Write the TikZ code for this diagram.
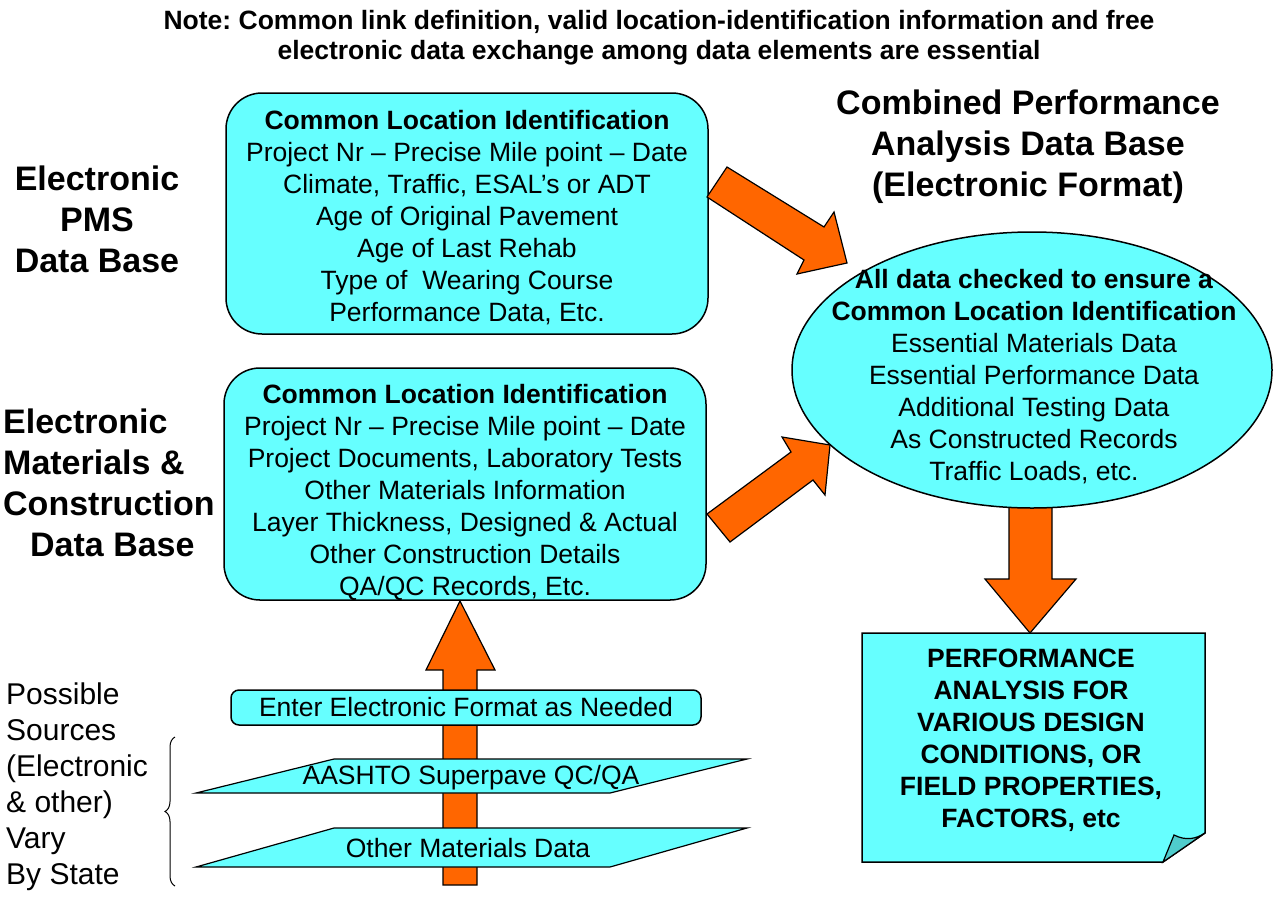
\documentclass[tikz,border=0pt]{standalone}
\usepackage{fontspec}
\setmainfont{Liberation Sans}
\usetikzlibrary{shapes,positioning,calc,decorations.pathreplacing}
\definecolor{dbcyan}{HTML}{66FFFF}
\definecolor{dborange}{HTML}{FF6600}
\definecolor{dbflap}{HTML}{4FCCCC}
\frenchspacing

\begin{document}
\begin{tikzpicture}[x=1pt, y=-1pt,
    dbbox/.style={rectangle, draw=black, fill=dbcyan, line width=1.5pt,
                  rounded corners=36pt, minimum width=482pt, minimum height=241pt,
                  inner sep=0pt, align=center, font=\fontsize{26.5}{32}\selectfont},
    bigarrow/.style={draw=black, fill=dborange, line width=1.2pt, line join=miter},
    para/.style={draw=black, fill=dbcyan, line width=1.2pt},
    bodytext/.style={inner sep=0pt, align=center, font=\fontsize{26.5}{32}\selectfont},
    heading/.style={inner sep=0pt, font=\bfseries\fontsize{34}{41}\selectfont}
]
    \useasboundingbox (0,0) rectangle (1273,899);

    % Note
    \node[inner sep=0pt, align=center, font=\bfseries\fontsize{26.5}{30}\selectfont] (note) at (659,37.5)
        {Note: Common link definition, valid location-identification information and free\\
         electronic data exchange among data elements are essential};

    % Left labels
    \node[heading, align=center] (pmslabel) at (97,219) {Electronic\\PMS\\Data Base};
    \node[heading, align=left, anchor=west] (matlabel) at (3,483)
        {Electronic\\Materials \&\\Construction\\\hspace*{27pt}Data Base};
    \node[inner sep=0pt, align=left, anchor=west, font=\fontsize{30}{36}\selectfont] (sources) at (6,787)
        {Possible\\Sources\\(Electronic\\\& other)\\Vary\\By State};

    % Combined data base title
    \node[heading, align=center] (combtitle) at (1028,147)
        {Combined Performance\\Analysis Data Base\\(Electronic Format)};

    % PMS data base
    \node[dbbox] (pms) at (467,213.5) {\rule{0pt}{27pt}\textbf{Common Location Identification}\\
        Project Nr -- Precise Mile point -- Date\\
        Climate, Traffic, ESAL’s or ADT\\
        Age of Original Pavement\\
        Age of Last Rehab\\
        Type of~ Wearing Course\\
        Performance Data, Etc.};

    % Materials & construction data base
    \node[dbbox, minimum height=232pt] (mat) at (465,484) {\rule{0pt}{35pt}\textbf{Common Location Identification}\\
        Project Nr -- Precise Mile point -- Date\\
        Project Documents, Laboratory Tests\\
        Other Materials Information\\
        Layer Thickness, Designed \& Actual\\
        Other Construction Details\\
        QA/QC Records, Etc.};

    % Down arrow (behind the ellipse)
    \draw[bigarrow] (1009,495) -- (1009,579) -- (985,579) -- (1030,633)
        -- (1076,579) -- (1052,579) -- (1052,495) -- cycle;

    % Combined data base
    \node[ellipse, draw=black, fill=dbcyan, line width=1.5pt, minimum width=480pt,
          minimum height=276pt, inner sep=0pt] (combined) at (1032,370) {};
    \node[bodytext] (checks) at (1034,377) {\textbf{All data checked to ensure a}\\
        \textbf{Common Location Identification}\\
        Essential Materials Data\\
        Essential Performance Data\\
        Additional Testing Data\\
        As Constructed Records\\
        Traffic Loads, etc.};

    % Arrows into the combined data base
    \draw[bigarrow] (727,167) -- (824,227) -- (834,212) -- (847,263)
        -- (797,274) -- (804,260) -- (707,197) -- cycle;
    \draw[bigarrow] (707,514) -- (791,452) -- (782,437) -- (830,445)
        -- (825,495) -- (813,480) -- (730,542) -- cycle;

    % Performance analysis document
    \draw[para, line width=1.5pt] (862,633) -- (1205,633) -- (1205,833) -- (1163,862) -- (862,862) -- cycle;
    \draw[draw=black, fill=dbflap, line width=1.2pt] (1163,862) -- (1174,835)
        .. controls (1186,841) and (1196,839) .. (1205,833) -- cycle;
    \node[bodytext, font=\bfseries\fontsize{26.5}{32}\selectfont] (perf) at (1031,740)
        {PERFORMANCE\\ANALYSIS FOR\\VARIOUS DESIGN\\CONDITIONS, OR\\FIELD PROPERTIES,\\FACTORS, etc};

    % Up arrow from the sources
    \draw[bigarrow] (443,885) -- (443,670) -- (426,670) -- (460,601)
        -- (495,670) -- (477,670) -- (477,885) -- cycle;

    % Sources
    \node[draw=black, fill=dbcyan, line width=1.5pt, rounded corners=8pt, minimum width=470pt,
          minimum height=35pt, inner sep=0pt, font=\fontsize{26.5}{32}\selectfont] (enter) at (466,707.5)
        {Enter Electronic Format as Needed};
    \draw[para] (334,759) -- (747,759) -- (610,793) -- (196,793) -- cycle;
    \node[bodytext] (aashto) at (471,778) {AASHTO Superpave QC/QA};
    \draw[para] (334,828) -- (747,828) -- (610,867) -- (196,867) -- cycle;
    \node[bodytext] (othermat) at (468,848) {Other Materials Data};

    % Brace
    \draw[line width=1pt, decorate, decoration={brace, amplitude=10pt}] (175,886) -- (175,737);
\end{tikzpicture}
\end{document}
